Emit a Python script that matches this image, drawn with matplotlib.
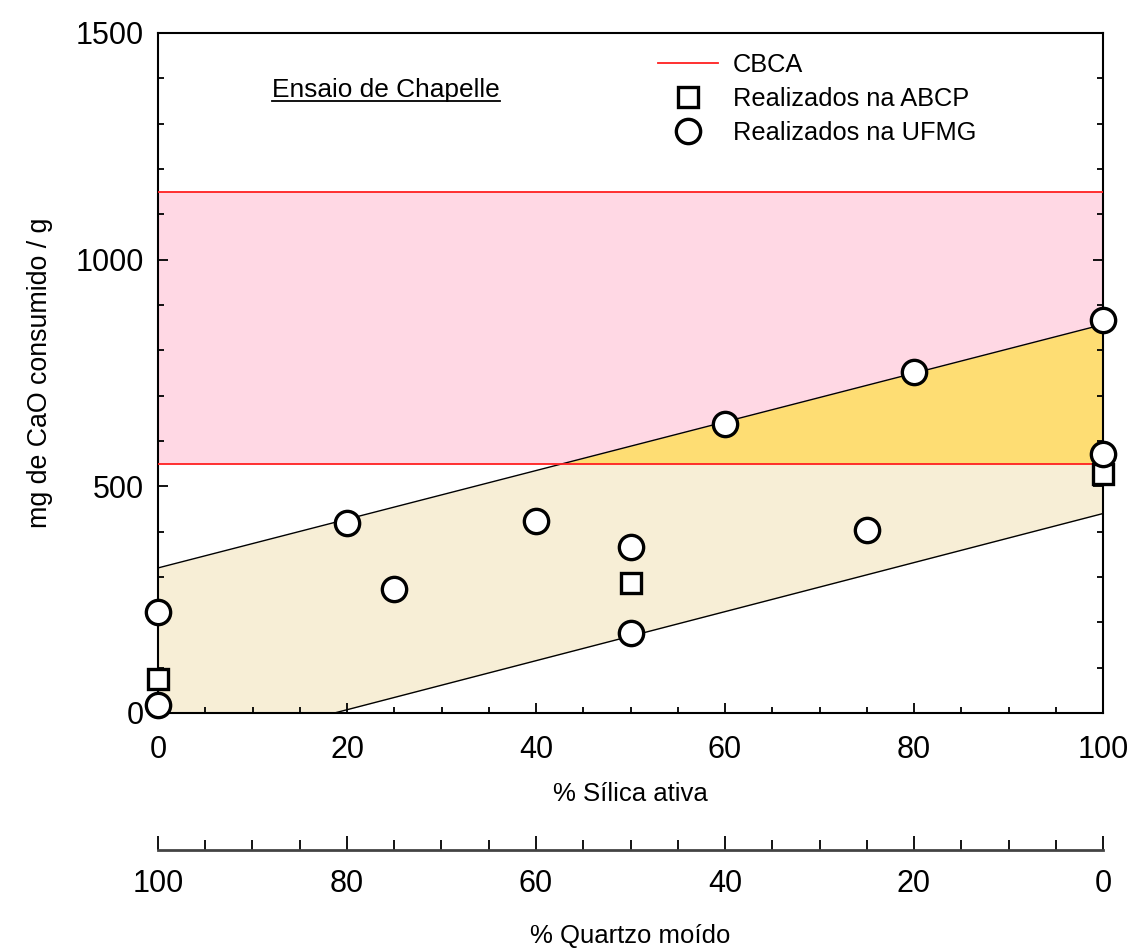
import matplotlib
matplotlib.use("Agg")
import matplotlib.pyplot as plt
import numpy as np
from matplotlib.lines import Line2D
from matplotlib.ticker import MultipleLocator

plt.rcParams['font.family'] = ['Liberation Sans', 'DejaVu Sans']

# Chapelle test results: % active silica vs mg CaO consumed per g
ufmg_x = [0, 0, 20, 25, 40, 50, 50, 60, 75, 80, 100, 100]
ufmg_y = [222, 17, 420, 273, 423, 366, 177, 637, 404, 752, 867, 571]
abcp_x = [0, 50, 100]
abcp_y = [75, 287, 527]

# CBCA reference range
cbca_low, cbca_high = 550, 1150

# Envelope of the results (linear bounds)
band_x = [0, 100]
band_upper = [320, 857]
band_lower = [-101, 440]

quartz_ticks = [100, 80, 60, 40, 20, 0]

W, H = 1134, 952
fig = plt.figure(figsize=(W / 100, H / 100), dpi=100)
ax = fig.add_axes([158 / W, 1 - 713 / H, (1103 - 158) / W, (713 - 33) / H])

xs = np.linspace(0, 100, 401)
up = np.interp(xs, band_x, band_upper)
lo = np.clip(np.interp(xs, band_x, band_lower), 0, None)

pink = '#FFD8E4'
beige = '#F7EED6'
gold = '#FEDD73'

ax.fill_between(xs, cbca_low, cbca_high, color=pink, lw=0, zorder=1)
ax.fill_between(xs, lo, np.minimum(up, cbca_low), color=beige, lw=0, zorder=1)
ax.fill_between(xs, cbca_low, up, where=up >= cbca_low, interpolate=True,
                color=gold, lw=0, zorder=1)

ax.plot(band_x, band_upper, color='black', lw=1.0, zorder=2)
ax.plot(band_x, band_lower, color='black', lw=1.0, zorder=2)
ax.axhline(cbca_low, color='#FF2020', lw=1.3, zorder=3)
ax.axhline(cbca_high, color='#FF2020', lw=1.3, zorder=3)

ax.plot(abcp_x, abcp_y, ls='none', marker='s', ms=15, mfc='white', mec='black',
        mew=2.4, clip_on=False, zorder=5)
ax.plot(ufmg_x, ufmg_y, ls='none', marker='o', ms=17.5, mfc='white', mec='black',
        mew=2.4, clip_on=False, zorder=6)

ax.set_xlim(0, 100)
ax.set_ylim(0, 1500)
ax.xaxis.set_major_locator(MultipleLocator(20))
ax.xaxis.set_minor_locator(MultipleLocator(5))
ax.yaxis.set_major_locator(MultipleLocator(500))
ax.yaxis.set_minor_locator(MultipleLocator(100))
ax.tick_params(which='both', direction='in', labelsize=22, width=1.3,
               right=True, top=False)
ax.tick_params(which='major', length=7)
ax.tick_params(which='minor', length=4)
ax.tick_params(axis='x', which='major', pad=16)
ax.tick_params(axis='y', which='major', pad=10)
for s in ax.spines.values():
    s.set_linewidth(1.5)

ax.set_xlabel('% Sílica ativa', fontsize=18.5, labelpad=12)
ax.set_ylabel('mg de CaO consumido / g', fontsize=19.3)
ax.yaxis.set_label_coords(-0.111, 0.5)

handles = [Line2D([], [], color='#FF2020', lw=1.3),
           Line2D([], [], ls='none', marker='s', ms=15, mfc='white', mec='black', mew=2.4),
           Line2D([], [], ls='none', marker='o', ms=17.5, mfc='white', mec='black', mew=2.4)]
ax.legend(handles, ['CBCA', 'Realizados na ABCP', 'Realizados na UFMG'],
          loc='upper left', bbox_to_anchor=((658 - 158) / 945, 1 - (52.5 - 33) / 680),
          frameon=False, fontsize=18.3, handlelength=2.36, handletextpad=0.6,
          labelspacing=0.4, borderaxespad=0, borderpad=0)

title = ax.text((272 - 158) / 945, 1 - (90 - 33) / 680, 'Ensaio de Chapelle',
                transform=ax.transAxes, fontsize=18.9, ha='left', va='center')
fig.canvas.draw()
bb = title.get_window_extent().transformed(fig.transFigure.inverted())
fig.add_artist(Line2D([bb.x0, bb.x1], [bb.y0 + 0.001, bb.y0 + 0.001],
                      transform=fig.transFigure, color='black', lw=1.3))

# Secondary scale: % ground quartz (complement of active silica)
ax2 = fig.add_axes([158 / W, 1 - 850 / H, (1103 - 158) / W, 1e-6])
ax2.set_xlim(100, 0)
ax2.set_ylim(0, 1)
ax2.set_yticks([])
for k in ('top', 'left', 'right'):
    ax2.spines[k].set_visible(False)
ax2.spines['bottom'].set_linewidth(2.0)
ax2.spines['bottom'].set_color('#444444')
ax2.set_xticks(quartz_ticks)
ax2.xaxis.set_minor_locator(MultipleLocator(5))
ax2.tick_params(which='both', direction='in', labelsize=22, width=1.3)
ax2.tick_params(which='major', length=10, pad=14)
ax2.tick_params(which='minor', length=7)
ax2.patch.set_alpha(0)
ax2.set_xlabel('% Quartzo moído', fontsize=18.5, labelpad=18)

fig.savefig('out.png', dpi=100, facecolor='white')
